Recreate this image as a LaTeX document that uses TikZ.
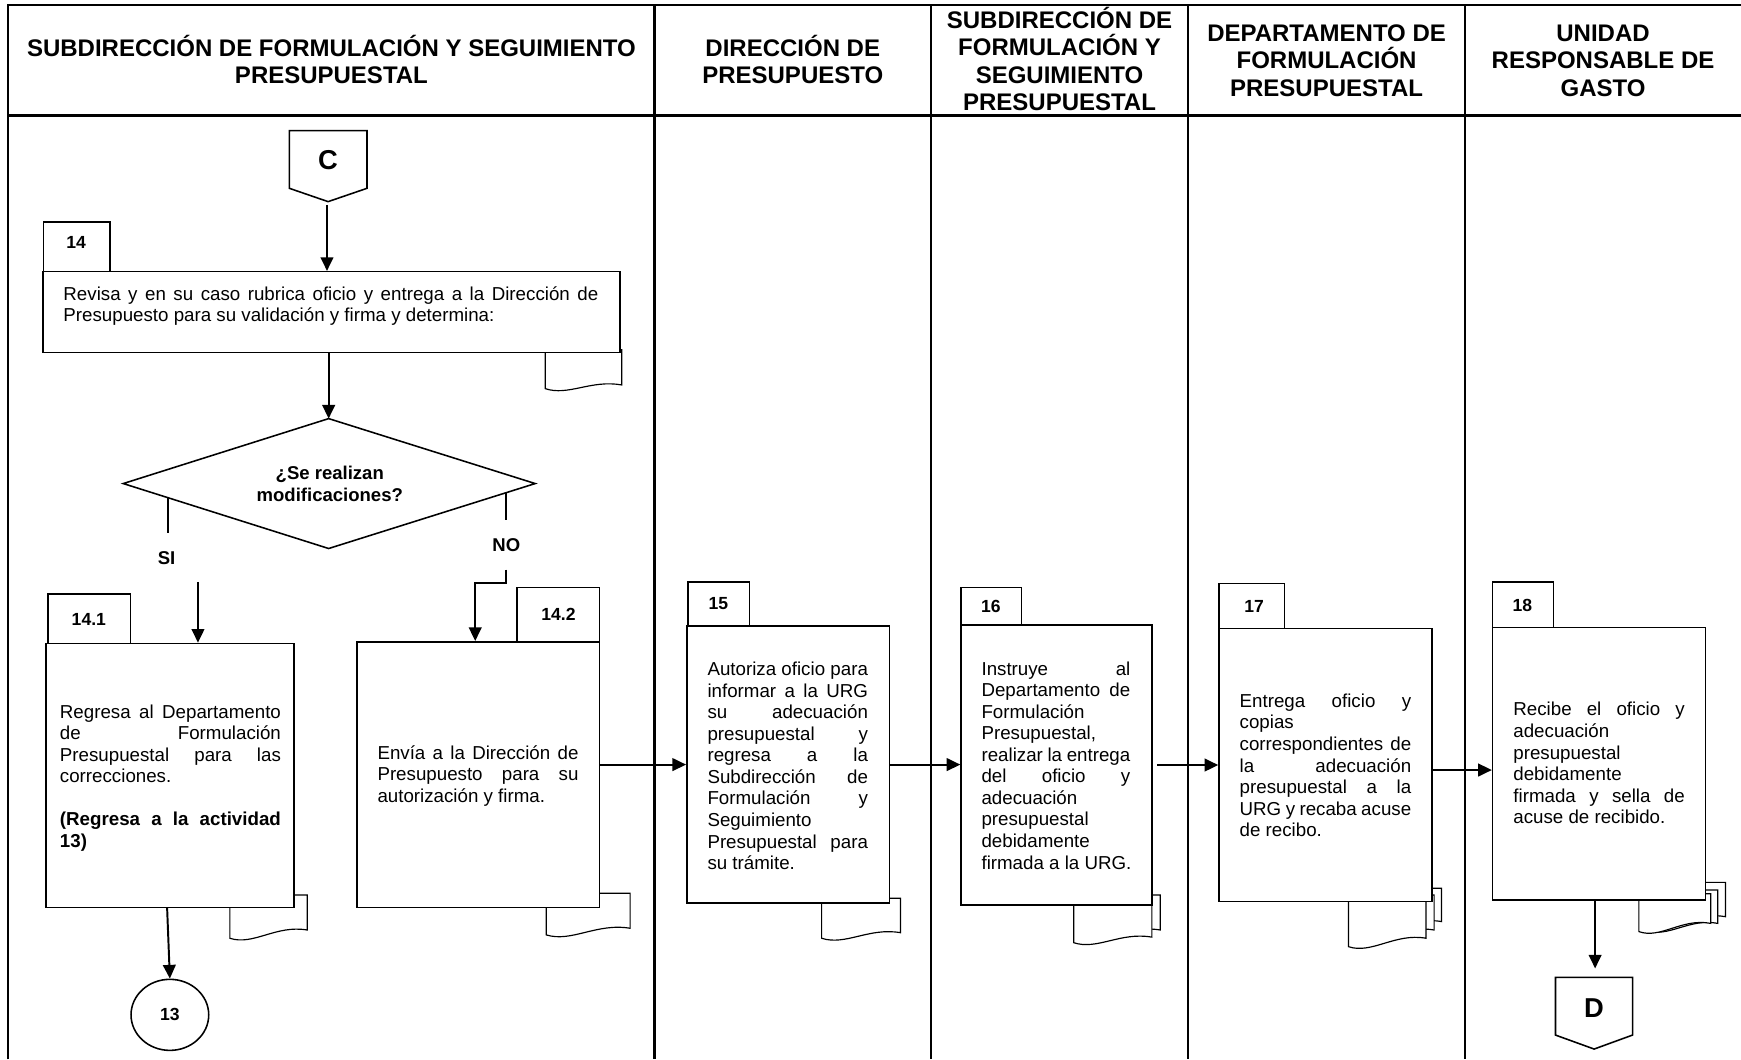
\documentclass[tikz,border=0pt]{standalone}
\usepackage{fontspec}
\setmainfont{Liberation Sans}
\usetikzlibrary{arrows.meta,fit,shapes.geometric,calc}
\newlength{\unitlen}\setlength{\unitlen}{0.02cm}
\newcommand{\nolsk}{\lineskiplimit=-\maxdimen\relax}
\newcommand{\jline}[2]{\makebox[#1\unitlen][s]{\strut #2}}
\newcommand{\lline}[2]{\makebox[#1\unitlen][l]{\strut #2}}
\newcommand{\doctab}[5]{\filldraw[doc] (#1,#3) -- (#1,#4) .. controls ({#1+0.3*(#2-#1)},{#4+7}) and ({#1+0.6*(#2-#1)},{#5-5}) .. (#2,#5) -- (#2,#3) -- cycle;}
\tikzset{
  tline/.style={line width=1.1pt, line join=miter},
  box/.style={draw, fill=white, line width=0.8pt, inner sep=0pt, rectangle},
  doc/.style={draw, fill=white, line width=0.6pt},
  arr/.style={line width=1pt, -{Triangle[length=7pt,width=6.5pt]}},
  conn/.style={line width=1pt},
  txt/.style={inner sep=0pt, align=left, font=\fontsize{9.6}{11.05}\selectfont\nolsk},
  hdr/.style={inner sep=0pt, align=center, font=\bfseries\fontsize{12.3}{14.05}\selectfont\nolsk},
  lbltxt/.style={inner sep=0pt, font=\bfseries\fontsize{9}{11}\selectfont},
  smallb/.style={inner sep=0pt, font=\bfseries\fontsize{9.5}{11.4}\selectfont\nolsk, align=center},
  bigb/.style={inner sep=0pt, font=\bfseries\fontsize{14}{16}\selectfont}
}
\begin{document}
\begin{tikzpicture}[x=0.02cm, y=-0.02cm]
\useasboundingbox (0,0) rectangle (1568,954);
% table
\draw[tline] (7.5,954) -- (7.5,4.5) -- (1568,4.5);
\draw[tline] (7.5,104) -- (1568,104);
\foreach \x in {589.5,838.5,1070,1319.5} \draw[tline] (\x,4.5) -- (\x,954);
% headers
\node[hdr] (h1) at (298.5,57) {\strut SUBDIRECCIÓN DE FORMULACIÓN Y SEGUIMIENTO\\\strut PRESUPUESTAL};
\node[hdr] (h2) at (714,57) {\strut DIRECCIÓN DE\\\strut PRESUPUESTO};
\node[hdr] (h3) at (954.25,56.6) {\strut SUBDIRECCIÓN DE\\\strut FORMULACIÓN Y\\\strut SEGUIMIENTO\\\strut PRESUPUESTAL};
\node[hdr] (h4) at (1194.75,57) {\strut DEPARTAMENTO DE\\\strut FORMULACIÓN\\\strut PRESUPUESTAL};
\node[hdr] (h5) at (1443.75,57) {\strut UNIDAD\\\strut RESPONSABLE DE\\\strut GASTO};
% connector C
\draw[line width=0.8pt, fill=white] (260.6,117.7) -- (330.5,117.7) -- (330.5,169.6) -- (295.5,181.6) -- (260.6,169.6) -- cycle;
\node[bigb] (C) at (295.5,144.5) {C};
\coordinate (Cpt) at (294.5,181.6);
% document tabs
\doctab{491}{560}{315}{350}{346.7}
\doctab{207}{276.7}{806}{845}{837.6}
\doctab{492}{567.5}{804.5}{842}{836}
\doctab{740}{811}{809}{845}{840}
\doctab{974.6}{1045}{806}{842.5}{837.6}
\doctab{967}{1037.4}{812}{849}{844}
\doctab{1228.5}{1298.3}{800}{837.6}{830}
\doctab{1221.5}{1291.6}{806}{845}{837.6}
\doctab{1214.5}{1284.3}{810}{852.6}{845}
\doctab{1490}{1554}{794.7}{832}{825.6}
\doctab{1483}{1547}{801.6}{838}{831.6}
\doctab{1476}{1540.7}{805}{839}{831.6}
% boxes
\node[box, fit={(39.2,199.7) (99,244.7)}] (l14) {};
\node[box, fit={(38.5,244.7) (558.2,317.6)}] (b14) {};
\node[box, fit={(43,535) (117.5,579.5)}] (l141) {};
\node[box, fit={(41.6,579.5) (265,817.5)}] (b141) {};
\node[box, fit={(465.5,529) (540,578)}] (l142) {};
\node[box, fit={(321.5,578) (540,817.5)}] (b142) {};
\node[box, fit={(619.6,524) (674.9,563.8)}] (l15) {};
\node[box, fit={(618.6,563.8) (801,813.4)}] (b15) {};
\node[box, fit={(865.6,529) (919.9,563)}] (l16) {};
\node[box, fit={(865.6,563) (1037.4,815)}] (b16) {};
\node[box, fit={(1097.9,525.4) (1157,566)}] (l17) {};
\node[box, fit={(1097.9,566) (1289.7,812)}] (b17) {};
\node[box, fit={(1344.3,524) (1399,565)}] (l18) {};
\node[box, fit={(1344.3,565) (1536,810.6)}] (b18) {};
% labels
\node[lbltxt] (n14) at (68.5,218.4) {14};
\node[lbltxt] (n141) at (80,558) {14.1};
\node[lbltxt] (n142) at (503,553) {14.2};
\node[lbltxt] (n15) at (647,544) {15};
\node[lbltxt] (n16) at (892.5,546) {16};
\node[lbltxt] (n17) at (1129.5,546) {17};
\node[lbltxt] (n18) at (1371,545) {18};
% texts
\node[txt] (t14) at (298,276.1) {\jline{481.7}{Revisa y en su caso rubrica oficio y entrega a la Dirección de}\\\lline{481.7}{Presupuesto para su validación y firma y determina:}};
\node[txt] (t141) at (153.5,701) {\jline{199}{Regresa al Departamento}\\\jline{199}{de Formulación}\\\jline{199}{Presupuestal para las}\\\lline{199}{correcciones.}\\\lline{199}{}\\\jline{199}{\bfseries (Regresa a la actividad}\\\lline{199}{\bfseries 13)}};
\node[txt] (t142) at (430.5,699.4) {\jline{181}{Envía a la Dirección de}\\\jline{181}{Presupuesto para su}\\\lline{181}{autorización y firma.}};
\node[txt] (t15) at (709.45,691.9) {\jline{144.5}{Autoriza oficio para}\\\jline{144.5}{informar a la URG}\\\jline{144.5}{su adecuación}\\\jline{144.5}{presupuestal y}\\\jline{144.5}{regresa a la}\\\jline{144.5}{Subdirección de}\\\jline{144.5}{Formulación y}\\\lline{144.5}{Seguimiento}\\\jline{144.5}{Presupuestal para}\\\lline{144.5}{su trámite.}};
\node[txt] (t16) at (951,691.4) {\jline{134}{Instruye al}\\\jline{134}{Departamento de}\\\lline{134}{Formulación}\\\lline{134}{Presupuestal,}\\\jline{134}{realizar la entrega}\\\jline{134}{del oficio y}\\\lline{134}{adecuación}\\\lline{134}{presupuestal}\\\lline{134}{debidamente}\\\lline{134}{firmada a la URG.}};
\node[txt] (t17) at (1193.75,691.4) {\jline{154.5}{Entrega oficio y}\\\lline{154.5}{copias}\\\jline{154.5}{correspondientes de}\\\jline{154.5}{la adecuación}\\\jline{154.5}{presupuestal a la}\\\jline{154.5}{URG y recaba acuse}\\\lline{154.5}{de recibo.}};
\node[txt] (t18) at (1440.2,689.4) {\jline{154.4}{Recibe el oficio y}\\\lline{154.4}{adecuación}\\\lline{154.4}{presupuestal}\\\lline{154.4}{debidamente}\\\jline{154.4}{firmada y sella de}\\\lline{154.4}{acuse de recibido.}};
% decision
\coordinate (dtop) at (296,377);
\coordinate (dright) at (482,435.5);
\coordinate (dbot) at (296,494);
\coordinate (dleft) at (111,435.5);
\draw[line width=0.8pt, fill=white] (dtop) -- (dright) -- (dbot) -- (dleft) -- cycle;
\node[smallb] (dq) at (297,438) {\strut ¿Se realizan\\\strut modificaciones?};
\node[smallb] (si) at (150,503) {SI};
\node[smallb] (no) at (456,491) {NO};
% circle 13
\node[draw, ellipse, line width=0.8pt, minimum width=1.40cm, minimum height=1.28cm, inner sep=0pt, font=\bfseries\fontsize{9}{11}\selectfont] (c13) at (153,914) {13};
% connector D
\draw[line width=0.8pt, fill=white] (1400.9,880.2) -- (1470.3,880.2) -- (1470.3,932.2) -- (1435.7,944.8) -- (1400.9,932.2) -- cycle;
\node[bigb] (D) at (1435.5,907.6) {D};
\coordinate (Dtop) at (1436.6,880.2);
% connectors
\draw[arr, shorten <=3\unitlen] (Cpt) -- (Cpt |- b14.north);
\draw[arr] (dtop |- b14.south) -- (dtop);
\coordinate (si1) at (151,447.6);
\coordinate (si2) at (151,480);
\draw[conn] (si1) -- (si2);
\coordinate (si3) at (178.3,524);
\draw[arr] (si3) -- (si3 |- b141.north);
\coordinate (no1) at (456,443.2);
\coordinate (no2) at (456,468.6);
\draw[conn] (no1) -- (no2);
\coordinate (no3) at (456,513);
\coordinate (no4) at (428,525);
\draw[arr] (no3) |- (no4) -- (no4 |- b142.north);
\coordinate (a141) at (150.5,817.5);
\draw[arr] (a141) -- (c13.north);
\draw[arr] (b142.east |- b15.west) -- (b15.west);
\draw[arr] (b15.east) -- (b15.east -| b16.west);
\draw[arr, shorten <=4\unitlen] (b16.east) -- (b16.east -| b17.west);
\coordinate (a17) at ($(b17.east)+(0,4.5)$);
\draw[arr] (a17) -- (a17 -| b18.west);
\draw[arr, shorten >=8\unitlen] (Dtop |- b18.south) -- (Dtop);
\end{tikzpicture}
\end{document}
